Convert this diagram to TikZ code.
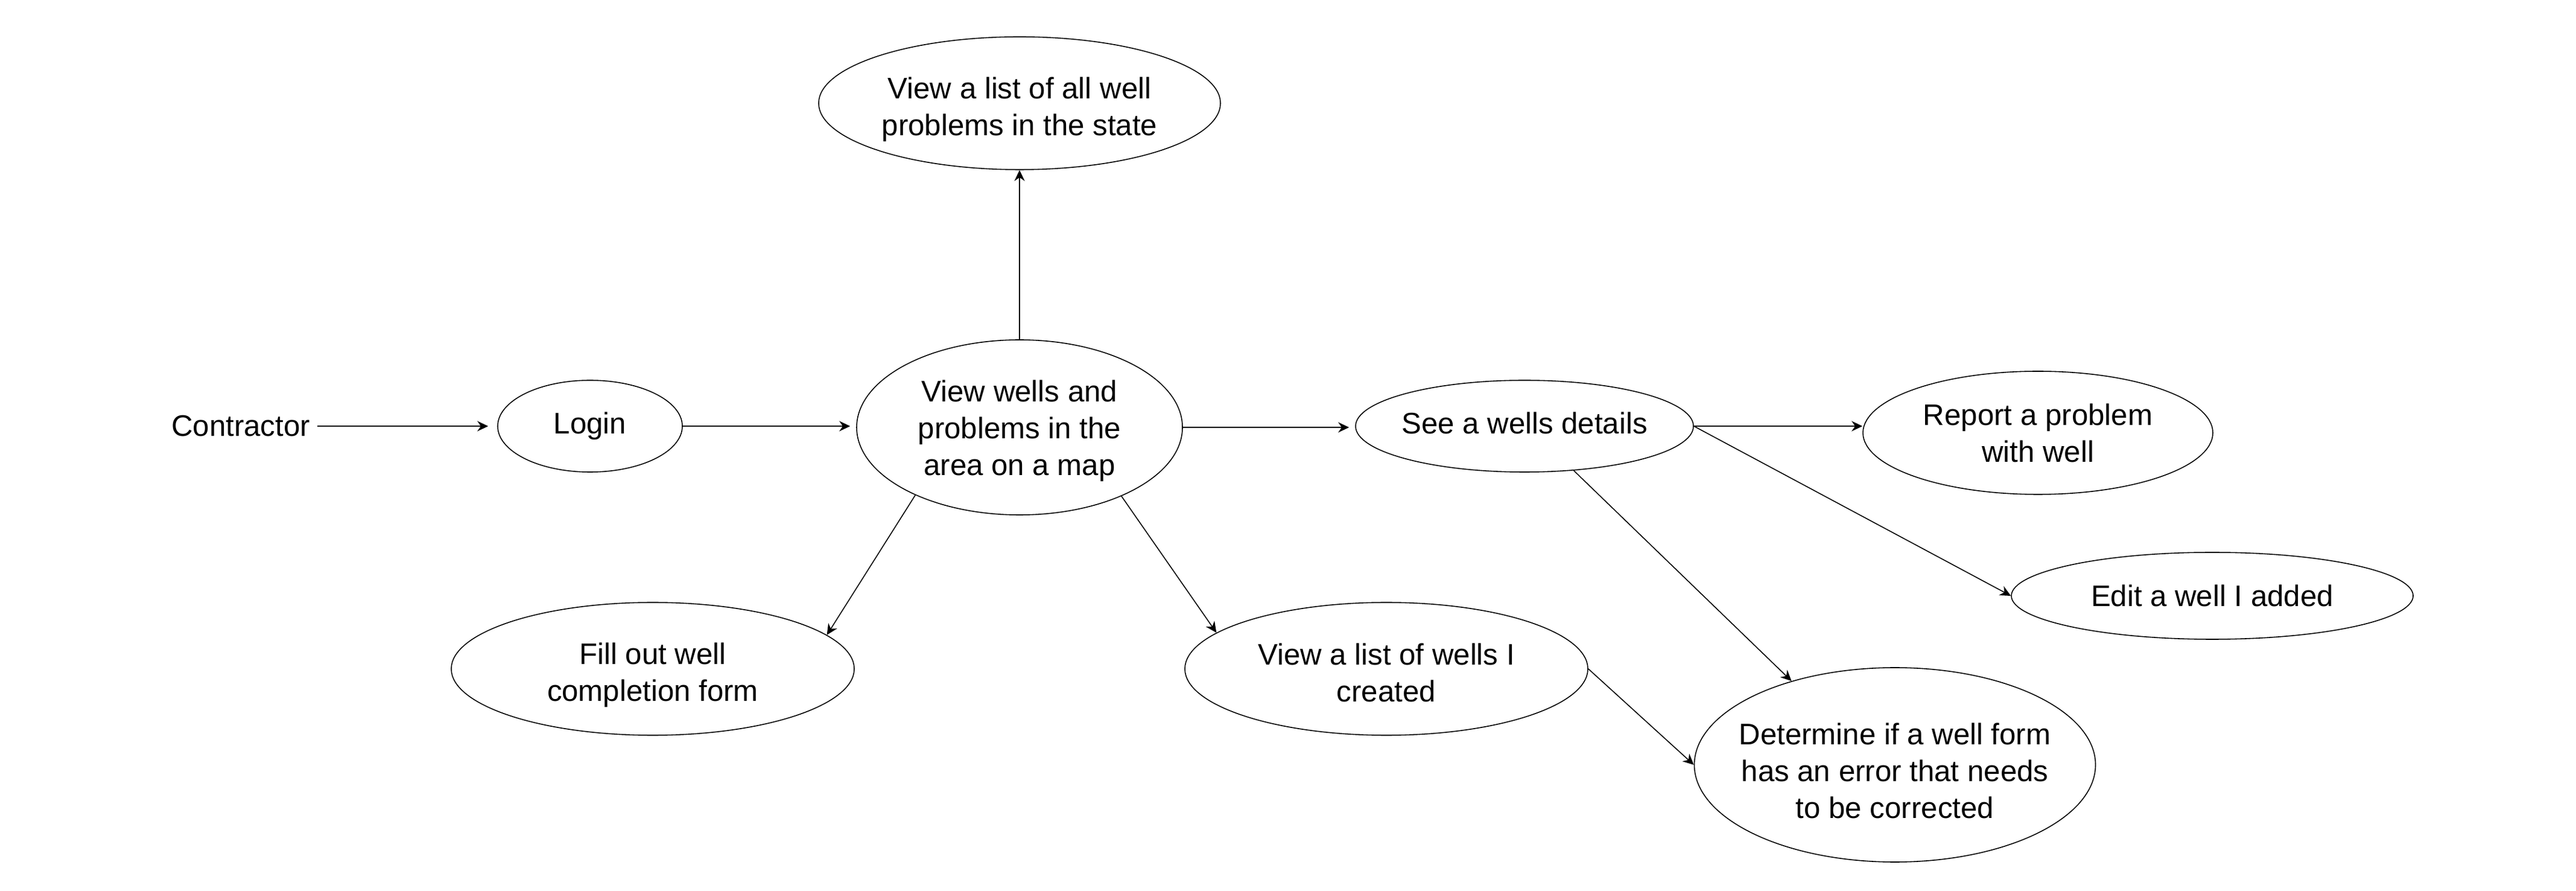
\documentclass[tikz,border=0pt]{standalone}
\usepackage{fontspec}
\setmainfont{Liberation Sans}
\usetikzlibrary{shapes.geometric,arrows.meta}
\begin{document}
\begin{tikzpicture}[line width=0.45pt,
  font=\fontsize{14}{17.4}\selectfont,
  case/.style={draw, ellipse, inner sep=0pt},
  txt/.style={align=center, inner sep=0pt},
  arr/.style={-{Stealth[length=0.18cm,width=0.17cm]}}]
      \useasboundingbox (0,0) rectangle (42.70,14.75);
      \node (contractor) at (3.99,7.69) {Contractor};
      \node[case,minimum width=3.06cm,minimum height=1.52cm,label={[txt]center:Login}] (login) at (9.78,7.69) {};
      \node[case,minimum width=5.40cm,minimum height=2.90cm,label={[txt,yshift=-0.06cm]center:View wells and\\problems in the\\area on a map}] (main) at (16.90,7.67) {};
      \node[case,minimum width=6.66cm,minimum height=2.20cm,label={[txt,yshift=-0.1cm]center:View a list of all well\\problems in the state}] (top) at (16.90,13.04) {};
      \node[case,minimum width=6.68cm,minimum height=2.20cm,label={[txt,yshift=-0.1cm]center:Fill out well\\completion form}] (fill) at (10.82,3.67) {};
      \node[case,minimum width=6.68cm,minimum height=2.20cm,label={[txt,yshift=-0.06cm]center:View a list of wells I\\created}] (viewlist) at (22.98,3.67) {};
      \node[case,minimum width=5.60cm,minimum height=1.52cm,label={[txt,yshift=0.05cm]center:See a wells details}] (see) at (25.27,7.69) {};
      \node[case,minimum width=5.80cm,minimum height=2.04cm,label={[txt]center:Report a problem\\with well}] (report) at (33.78,7.58) {};
      \node[case,minimum width=6.66cm,minimum height=1.44cm,label={[txt]center:Edit a well I added}] (edit) at (36.67,4.88) {};
      \node[case,minimum width=6.65cm,minimum height=3.22cm,label={[txt,yshift=-0.1cm]center:Determine if a well form\\has an error that needs\\to be corrected}] (determine) at (31.41,2.08) {};
      \draw[arr,shorten >=0.15cm] (contractor) -- (login);
      \draw[arr,shorten >=0.1cm] (login.east) -- (login.east -| main.west);
      \draw[arr] (main) -- (top);
      \draw[arr] (main.213) -- (fill.11);
      \draw[arr] (main.326.5) -- (viewlist.168.5);
      \draw[arr,shorten >=0.1cm] (main.east) -- (main.east -| see.west);
      \draw[arr] (see.east) -- (see.east -| report.west);
      \draw[arr] (see.east) -- (edit.west);
      \draw[arr] (see.318.4) -- (determine.141.7);
      \draw[arr] (viewlist.east) -- (determine.west);
    \end{tikzpicture}
\end{document}
